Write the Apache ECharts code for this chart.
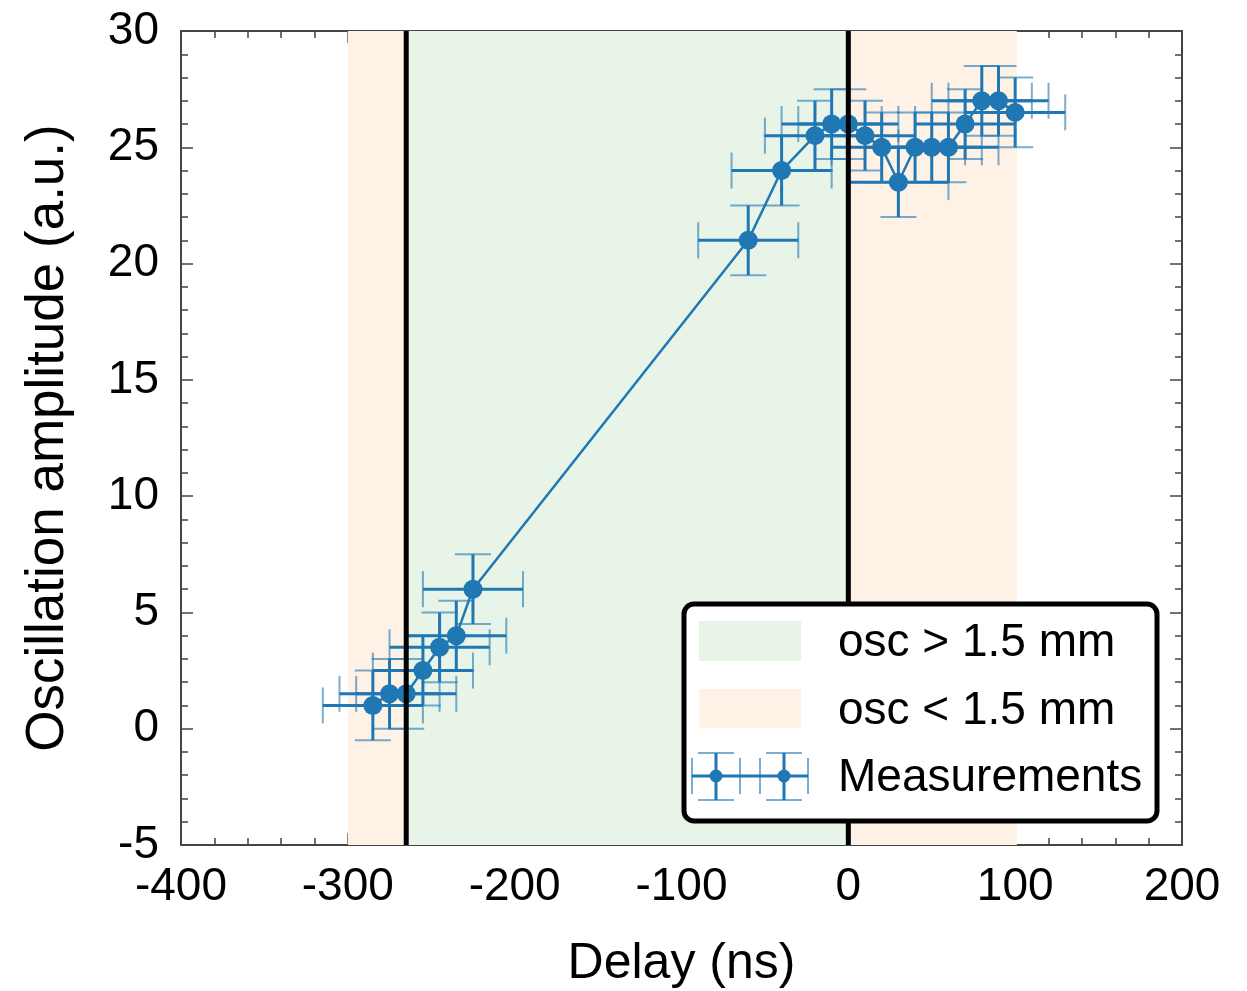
<!DOCTYPE html>
<html>
<head>
<meta charset="utf-8">
<script src="https://cdn.jsdelivr.net/npm/echarts@6/dist/echarts.min.js"></script>
<style>
html,body{margin:0;padding:0;background:#fff;}
#chart{width:1247px;height:991px;}
</style>
</head>
<body>
<div id="chart"></div>
<script>
// Data
const delays = [-285, -275, -265, -255, -245, -235, -225, -60, -40, -20, -10, 0, 10, 20, 30, 40, 50, 60, 70, 80, 90, 100];
const amplitudes = [1.0, 1.5, 1.5, 2.5, 3.5, 4.0, 6.0, 21.0, 24.0, 25.5, 26.0, 26.0, 25.5, 25.0, 23.5, 25.0, 25.0, 25.0, 26.0, 27.0, 27.0, 26.5];
const delayErr = [30, 30, 30, 30, 30, 30, 30, 30, 30, 30, 30, 30, 30, 30, 30, 30, 30, 30, 30, 30, 30, 30];
const ampErr = [1.5, 1.5, 1.5, 1.5, 1.5, 1.5, 1.5, 1.5, 1.5, 1.5, 1.5, 1.5, 1.5, 1.5, 1.5, 1.5, 1.5, 1.5, 1.5, 1.5, 1.5, 1.5];
const greenBands = [[-265, 0]];
const orangeBands = [[-300, -265], [0, 101]];
const verticalLines = [-265, 0];
const legendLabels = ['osc > 1.5 mm', 'osc < 1.5 mm', 'Measurements'];

const BLUE = '#1f77b4';
const GREEN = 'rgb(231,244,231)';
const ORANGE = 'rgb(254,241,230)';
const FONT = 'Liberation Sans';

const chart = echarts.init(document.getElementById('chart'), null, {renderer: 'canvas'});

function bandRender(color) {
  return function (params, api) {
    const cs = params.coordSys;
    const a = api.coord([api.value(0), 0]);
    const b = api.coord([api.value(1), 0]);
    return {
      type: 'rect',
      shape: {x: a[0], y: cs.y, width: b[0] - a[0], height: cs.height},
      style: {fill: color},
      silent: true
    };
  };
}

const pts = delays.map((d, i) => [d, amplitudes[i], delayErr[i], ampErr[i]]);

const tickCommon = {
  axisLine: {show: true, onZero: false, lineStyle: {color: '#444', width: 2}},
  axisTick: {show: true, inside: true, length: 12, lineStyle: {color: '#444', width: 1.5}},
  minorTick: {show: true, splitNumber: 5, length: 7, lineStyle: {color: '#444', width: 1.5}},
  splitLine: {show: false},
  minorSplitLine: {show: false}
};

const LZ = 100;
const capStyle = {stroke: BLUE, lineWidth: 2, opacity: 0.6};
const barStyle = {stroke: BLUE, lineWidth: 3};
const legendFont = '46px "Liberation Sans"';

const option = {
  animation: false,
  backgroundColor: '#fff',
  grid: {left: 181, right: 65, top: 31, bottom: 146, containLabel: false, outerBoundsMode: 'none'},
  xAxis: [
    Object.assign({
      type: 'value', min: -400, max: 200, interval: 100, position: 'bottom',
      name: 'Delay (ns)', nameLocation: 'middle', nameGap: 94,
      nameTextStyle: {fontFamily: FONT, fontSize: 50, color: '#000'},
      axisLabel: {fontFamily: FONT, fontSize: 46, color: '#000', margin: 19}
    }, tickCommon),
    Object.assign({
      type: 'value', min: -400, max: 200, interval: 100, position: 'top',
      axisLabel: {show: false}
    }, tickCommon)
  ],
  yAxis: [
    Object.assign({
      type: 'value', min: -5, max: 30, interval: 5, position: 'left',
      name: 'Oscillation amplitude (a.u.)', nameLocation: 'middle', nameGap: 106,
      nameTextStyle: {fontFamily: FONT, fontSize: 53, color: '#000'},
      axisLabel: {fontFamily: FONT, fontSize: 46, color: '#000', margin: 22}
    }, tickCommon),
    Object.assign({
      type: 'value', min: -5, max: 30, interval: 5, position: 'right',
      axisLabel: {show: false}
    }, tickCommon)
  ],
  series: [
    {
      type: 'custom', name: 'green', z: 1, silent: true,
      data: greenBands, renderItem: bandRender(GREEN), clip: true
    },
    {
      type: 'custom', name: 'orange', z: 1, silent: true,
      data: orangeBands, renderItem: bandRender(ORANGE), clip: true
    },
    {
      type: 'custom', name: 'errors', z: 3, silent: true,
      data: pts,
      renderItem: function (params, api) {
        const x = api.value(0), y = api.value(1), xe = api.value(2), ye = api.value(3);
        const l = api.coord([x - xe, y]);
        const r = api.coord([x + xe, y]);
        const t = api.coord([x, y + ye]);
        const b = api.coord([x, y - ye]);
        const c = 18;
        return {
          type: 'group',
          children: [
            {type: 'line', shape: {x1: l[0], y1: l[1], x2: r[0], y2: r[1]}, style: barStyle},
            {type: 'line', shape: {x1: t[0], y1: t[1], x2: b[0], y2: b[1]}, style: barStyle},
            {type: 'line', shape: {x1: t[0] - c, y1: t[1], x2: t[0] + c, y2: t[1]}, style: capStyle},
            {type: 'line', shape: {x1: b[0] - c, y1: b[1], x2: b[0] + c, y2: b[1]}, style: capStyle},
            {type: 'line', shape: {x1: l[0], y1: l[1] - c, x2: l[0], y2: l[1] + c}, style: capStyle},
            {type: 'line', shape: {x1: r[0], y1: r[1] - c, x2: r[0], y2: r[1] + c}, style: capStyle}
          ]
        };
      }
    },
    {
      type: 'line', name: 'Measurements', z: 4,
      data: delays.map((d, i) => [d, amplitudes[i]]),
      symbol: 'circle', symbolSize: 19, showSymbol: true,
      lineStyle: {color: BLUE, width: 2.5},
      itemStyle: {color: BLUE},
      silent: true
    },
    {
      type: 'custom', name: 'vlines', z: 5, silent: true,
      data: verticalLines,
      renderItem: function (params, api) {
        const cs = params.coordSys;
        const p = api.coord([api.value(0), 0]);
        return {
          type: 'line',
          shape: {x1: p[0], y1: cs.y, x2: p[0], y2: cs.y + cs.height},
          style: {stroke: '#000', lineWidth: 5}
        };
      }
    }
  ],
  graphic: [
    {type: 'rect', z: LZ, zlevel: 1, shape: {x: 684, y: 604, width: 473, height: 217, r: 10},
      style: {fill: '#fff', stroke: '#000', lineWidth: 5}},
    {type: 'rect', z: LZ + 1, zlevel: 1, shape: {x: 699, y: 621, width: 102, height: 40}, style: {fill: GREEN}},
    {type: 'rect', z: LZ + 1, zlevel: 1, shape: {x: 699, y: 689, width: 102, height: 39}, style: {fill: ORANGE}},
    {type: 'text', z: LZ + 1, zlevel: 1, x: 838, y: 643, style: {text: legendLabels[0], font: legendFont, fill: '#000', verticalAlign: 'middle'}},
    {type: 'text', z: LZ + 1, zlevel: 1, x: 838, y: 711, style: {text: legendLabels[1], font: legendFont, fill: '#000', verticalAlign: 'middle'}},
    {type: 'text', z: LZ + 1, zlevel: 1, x: 838, y: 778, style: {text: legendLabels[2], font: legendFont, fill: '#000', verticalAlign: 'middle'}},
    {type: 'line', z: LZ + 1, zlevel: 1, shape: {x1: 692, y1: 776, x2: 808, y2: 776}, style: barStyle},
    {type: 'line', z: LZ + 1, zlevel: 1, shape: {x1: 716, y1: 753, x2: 716, y2: 800}, style: barStyle},
    {type: 'line', z: LZ + 1, zlevel: 1, shape: {x1: 784, y1: 753, x2: 784, y2: 800}, style: barStyle},
    {type: 'line', z: LZ + 1, zlevel: 1, shape: {x1: 698, y1: 753, x2: 734, y2: 753}, style: capStyle},
    {type: 'line', z: LZ + 1, zlevel: 1, shape: {x1: 698, y1: 800, x2: 734, y2: 800}, style: capStyle},
    {type: 'line', z: LZ + 1, zlevel: 1, shape: {x1: 766, y1: 753, x2: 802, y2: 753}, style: capStyle},
    {type: 'line', z: LZ + 1, zlevel: 1, shape: {x1: 766, y1: 800, x2: 802, y2: 800}, style: capStyle},
    {type: 'line', z: LZ + 1, zlevel: 1, shape: {x1: 692, y1: 758, x2: 692, y2: 794}, style: capStyle},
    {type: 'line', z: LZ + 1, zlevel: 1, shape: {x1: 740, y1: 758, x2: 740, y2: 794}, style: capStyle},
    {type: 'line', z: LZ + 1, zlevel: 1, shape: {x1: 760, y1: 758, x2: 760, y2: 794}, style: capStyle},
    {type: 'line', z: LZ + 1, zlevel: 1, shape: {x1: 808, y1: 758, x2: 808, y2: 794}, style: capStyle},
    {type: 'circle', z: LZ + 2, zlevel: 1, shape: {cx: 716, cy: 776, r: 6.5}, style: {fill: BLUE}},
    {type: 'circle', z: LZ + 2, zlevel: 1, shape: {cx: 784, cy: 776, r: 6.5}, style: {fill: BLUE}}
  ]
};

chart.setOption(option);
</script>
</body>
</html>
